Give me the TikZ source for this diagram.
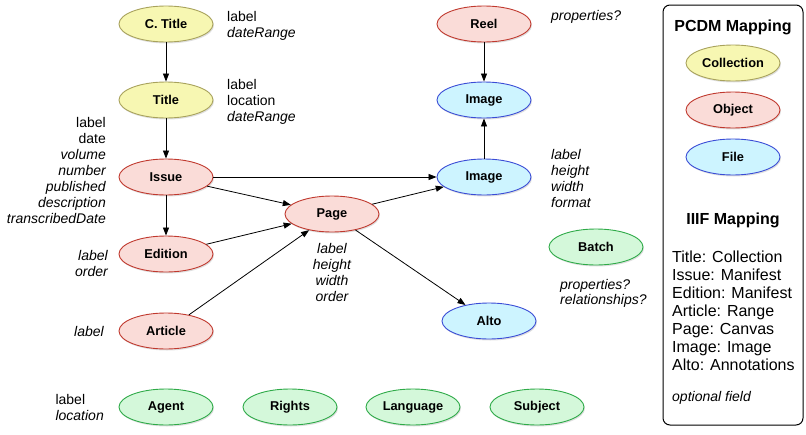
\documentclass[tikz,border=0pt]{standalone}
\usepackage{fontspec}
\setmainfont{Liberation Sans}
\usetikzlibrary{shapes.geometric,arrows.meta,shadows}
\definecolor{yfill}{HTML}{F7F7B2}
\definecolor{ydraw}{HTML}{A8A25C}
\definecolor{rfill}{HTML}{FADCD8}
\definecolor{rdraw}{HTML}{C0392E}
\definecolor{bfill}{HTML}{CDF4FF}
\definecolor{bdraw}{HTML}{3A4CD6}
\definecolor{gfill}{HTML}{D4F8DA}
\definecolor{gdraw}{HTML}{2EAA48}
\tikzset{
  ell/.style={ellipse, minimum width=94pt, minimum height=36pt, inner sep=0pt, line width=0.9pt,
    font=\fontsize{12.8}{14}\selectfont\bfseries,
    drop shadow={opacity=0.25, shadow xshift=1pt, shadow yshift=-1.5pt}},
  coll/.style={ell, fill=yfill, draw=ydraw},
  obj/.style={ell, fill=rfill, draw=rdraw},
  file/.style={ell, fill=bfill, draw=bdraw},
  other/.style={ell, fill=gfill, draw=gdraw},
  lbl/.style={inner sep=0pt, font=\fontsize{14}{16}\selectfont},
  edge/.style={-{Triangle[length=8pt,width=6pt]}, line width=0.8pt},
}
\begin{document}
\begin{tikzpicture}[x=1pt,y=-1pt]
\useasboundingbox (0,0) rectangle (806,434);
% nodes
\node[coll] (ctitle) at (166,24) {C. Title};
\node[coll] (title) at (166,100) {Title};
\node[obj] (issue) at (166,177) {Issue};
\node[obj] (edition) at (166,254) {Edition};
\node[obj] (article) at (166,331) {Article};
\node[obj] (page) at (332,214) {Page};
\node[obj] (reel) at (484,24) {Reel};
\node[file] (imgtop) at (484,100) {Image};
\node[file] (imgmid) at (484,177) {Image};
\node[file] (alto) at (489,321) {Alto};
\node[other] (batch) at (596,247) {Batch};
\node[other] (agent) at (166,407) {Agent};
\node[other] (rights) at (290,407) {Rights};
\node[other] (language) at (413,407) {Language};
\node[other] (subject) at (537,407) {Subject};
% edges
\draw[edge] (ctitle) -- (title);
\draw[edge] (title) -- (issue);
\draw[edge] (issue) -- (edition);
\draw[edge] (issue) -- (imgmid);
\draw[edge] (issue) -- (page);
\draw[edge] (edition) -- (page);
\draw[edge] (article) -- (page);
\draw[edge] (page) -- (imgmid);
\draw[edge] (page) -- (alto);
\draw[edge] (imgmid) -- (imgtop);
\draw[edge] (reel) -- (imgtop);
% labels
\node[lbl, anchor=west, align=left] (lctitle) at (227,26) {label\\\itshape dateRange};
\node[lbl, anchor=west, align=left] (ltitle) at (227,102) {label\\location\\\itshape dateRange};
\node[lbl, anchor=east, align=right] (lissue) at (106,170) {label\\date\\\itshape volume\\\itshape number\\\itshape published\\\itshape description\\\itshape transcribedDate};
\node[lbl, anchor=east, align=right, font=\fontsize{14}{16}\selectfont\itshape] (ledition) at (108,263) {label\\order};
\node[lbl, anchor=east, font=\fontsize{14}{16}\selectfont\itshape] (larticle) at (104,331) {label};
\node[lbl, anchor=east, align=left] (lagent) at (104,407) {label\\\itshape location};
\node[lbl, align=center, font=\fontsize{14}{16}\selectfont\itshape] (lpage) at (332,272) {label\\height\\width\\order};
\node[lbl, anchor=west, align=left, font=\fontsize{14}{16}\selectfont\itshape] (limg) at (551,178) {label\\height\\width\\format};
\node[lbl, anchor=west, font=\fontsize{14}{16}\selectfont\itshape] (lreel) at (551,17) {properties?};
\node[lbl, anchor=west, align=left, font=\fontsize{14}{15}\selectfont\itshape] (lbatch) at (560,293) {properties?\\relationships?};
% legend
\draw[line width=1pt, rounded corners=7pt] (663,5) rectangle (803,425);
\node[inner sep=0pt, font=\fontsize{16}{18}\selectfont\bfseries] (pcdm) at (733,27) {PCDM Mapping};
\node[coll] (lcoll) at (733,63) {Collection};
\node[obj] (lobj) at (733,110) {Object};
\node[file] (lfile) at (733,157) {File};
\node[inner sep=0pt, font=\fontsize{16}{18}\selectfont\bfseries] (iiif) at (733,220) {IIIF Mapping};
\node[inner sep=0pt, anchor=west, align=left, font=\fontsize{16}{18}\selectfont] (map) at (672,311) {Title: Collection\\Issue: Manifest\\Edition: Manifest\\Article: Range\\Page: Canvas\\Image: Image\\Alto: Annotations};
\node[lbl, anchor=west, font=\fontsize{14}{16}\selectfont\itshape] (opt) at (672,398) {optional field};
\end{tikzpicture}
\end{document}
